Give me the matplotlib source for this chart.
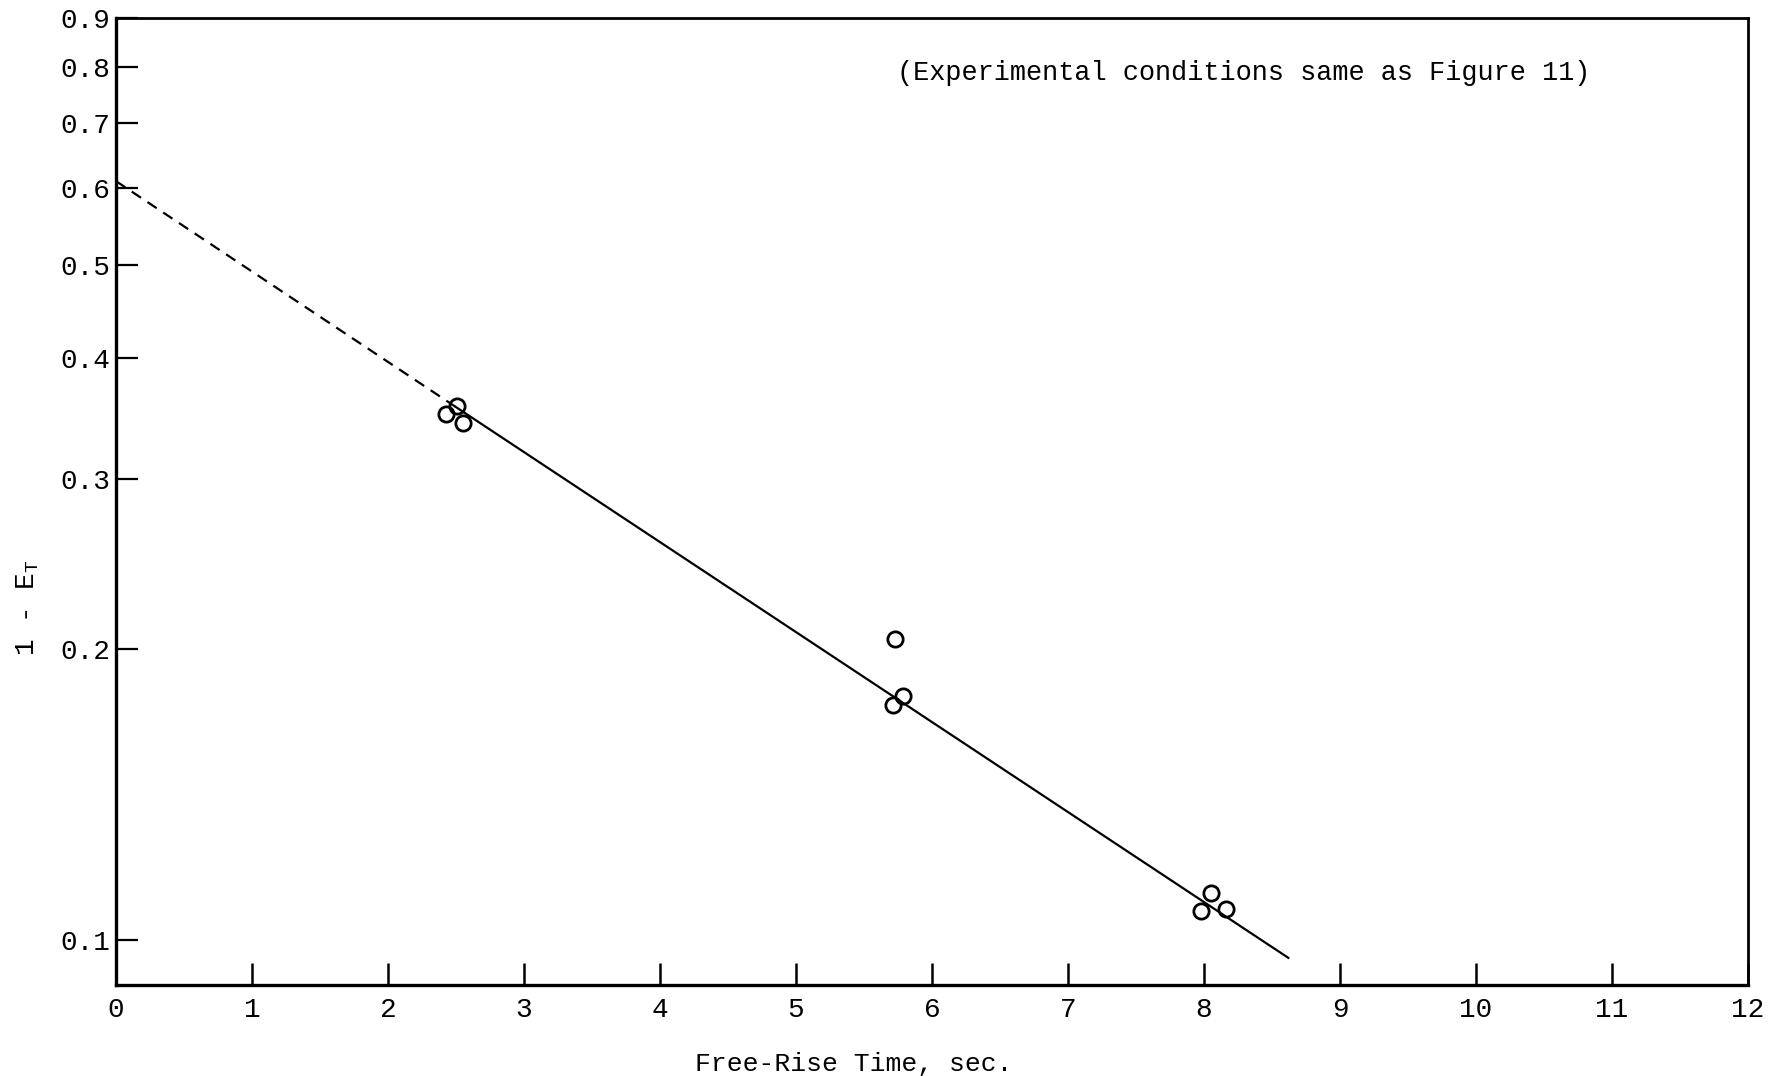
import numpy as np
import matplotlib
matplotlib.use("Agg")
import matplotlib.pyplot as plt
from matplotlib.ticker import FixedLocator, FixedFormatter, NullLocator

plt.rcParams['font.family'] = ['Liberation Mono', 'DejaVu Sans Mono']
plt.rcParams['mathtext.default'] = 'regular'

# measured points: free-rise time (sec) vs 1 - E_T
time_pts = [2.43, 2.51, 2.55, 5.73, 5.71, 5.79, 8.05, 7.98, 8.16]
one_minus_et = [0.350, 0.357, 0.343, 0.205, 0.175, 0.179, 0.1117, 0.1071, 0.1077]

# fitted line, extrapolated part dashed back to t = 0
fit_dash_x = [0.0, 2.5]
fit_dash_y = [0.610, 0.356]
fit_solid_x = [2.5, 8.62]
fit_solid_y = [0.356, 0.0958]

x_ticks = list(range(0, 13))
x_labels = [str(t) for t in x_ticks]
y_ticks = [0.1, 0.2, 0.3, 0.4, 0.5, 0.6, 0.7, 0.8, 0.9]
y_labels = ['0.1', '0.2', '0.3', '0.4', '0.5', '0.6', '0.7', '0.8', '0.9']

fig = plt.figure(figsize=(17.71, 10.76), dpi=100)
ax = fig.add_axes([0.0655, 0.0846, 0.9215, 0.8987])

ax.plot(fit_dash_x, fit_dash_y, color='black', lw=1.6, dashes=(5, 3.5))
ax.plot(fit_solid_x, fit_solid_y, color='black', lw=1.6)
ax.plot(time_pts, one_minus_et, 'o', ms=11, mfc='none', mec='black', mew=2.0)

ax.set_yscale('log')
ax.set_xlim(0, 12)
ax.set_ylim(0.0898, 0.9)

ax.xaxis.set_major_locator(FixedLocator(x_ticks))
ax.xaxis.set_major_formatter(FixedFormatter(x_labels))
ax.yaxis.set_major_locator(FixedLocator(y_ticks))
ax.yaxis.set_major_formatter(FixedFormatter(y_labels))
ax.yaxis.set_minor_locator(NullLocator())
ax.xaxis.set_minor_locator(NullLocator())

ax.tick_params(axis='x', direction='in', length=16, width=1.8, pad=9, labelsize=20)
ax.tick_params(axis='y', direction='in', length=16, width=1.6, pad=4, labelsize=20)

for side in ['left', 'bottom']:
    ax.spines[side].set_linewidth(2.4)
for side in ['top', 'right']:
    ax.spines[side].set_linewidth(2.0)

ax.set_xlabel('Free-Rise Time, sec.', fontsize=19)
ax.xaxis.set_label_coords(0.452, -0.069)
ax.set_ylabel(r'1 - E$_T$', fontsize=20)
ax.yaxis.set_label_coords(-0.046, 0.39)

ax.text(0.691, 0.943, '(Experimental conditions same as Figure 11)',
        transform=ax.transAxes, ha='center', va='center', fontsize=19.4)

fig.savefig('out.png', dpi=100)
